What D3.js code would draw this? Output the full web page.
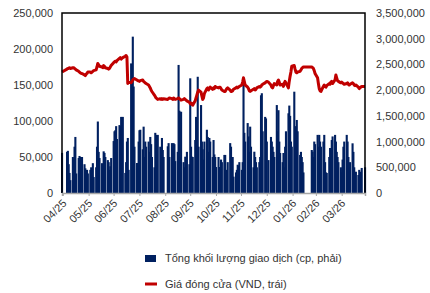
<!DOCTYPE html>
<html>
<head>
<meta charset="utf-8">
<script src="https://cdn.jsdelivr.net/npm/d3@7"></script>
<style>
  body { margin: 0; background: #fff; }
  text { font-family: "Liberation Sans", Arial, sans-serif; fill: #333; }
</style>
</head>
<body>
<div id="chart"></div>
<script>
'use strict';

// trading volume, thousand shares, one value per trading day, grouped by month
const volApr25 = [780];
const volMay25 = [800,820,560,390,250, 700,650,900,1090,380, 680,720,700,650,700, 560,480,430,450,380];
const volJun25 = [450,500,350,580,310, 500,900,1390,800,680, 580,380,810,780,700, 640,600,450,520,680, 1010];
const volJul25 = [1200,1220,1300,1050, 1320,1300,1480,1460,1480, 390,600,1000,1070,450, 2520,1500,3040,2070,900, 583,450,1000,1220];
const volAug25 = [1230, 850,1290,700,1000,900, 1000,800,1090,950,700, 500,1170,1130,800,1130, 900,600,1070,836,700];
const volSep25 = [908,970,700, 970,850,970,950,620, 800,2490,1600,700,1580, 600,500,706,600,800, 560,2230];
const volOct25 = [900,706,700, 1030,1480,1200,2260,900, 1710,1000,850,650,1000, 1230,1090,800,1070,1000, 700,1030,750,700,505];
const volNov25 = [700,505,500,650,600, 740,740,450,400,600, 970,900,600,700,318, 400,450,550,530,600];
const volDec25 = [450,600,2240,1170,1000, 1360,1100,800,1290,900, 500,803,700,600,500, 600,700,1900,1940,1200, 1480,1450,1000];
const volJan26 = [640, 1090,1000,900,800,700, 1710,1200,1610,1000,778, 600,778,500,900,1200, 1550,1700,1500,1000,900];
const volFeb26 = [1970,1300,1000,1420,1200, 740,800,700,600,400, 836,803,700,1000,950];
const volMar26 = [1130,900,1130,1000,900, 1000,1130,600,400,390, 700,875,600,1030,1100, 1130,1000,800,700,600, 500,400];
const volApr26 = [650,900,1000, 1130,1000,700,500,600, 966,800,500,400,414, 350,450,414,380,487, 500];

// closing price, thousand VND
const priceApr25 = [168];
const priceMay25 = [172,173,173,174,173, 174,174,173,172,171, 169,168,167,166,166, 164,163,165,166,168];
const priceJun25 = [168,167,168,169,170, 171,175,180,178,176, 175,174,177,176,174, 173,172,173,175,177, 181];
const priceJul25 = [182,183,182,184, 187,188,186,187,188, 190,191,189,152,154, 153,155,157,158,159, 157,156,156,155];
const priceAug25 = [156, 157,155,154,153,152, 150,148,146,143,141, 136,134,132,131,130, 131,130,131,130,131];
const priceSep25 = [130,131,132, 131,130,132,131,130, 131,132,131,130,129, 130,131,130,129,128, 126,124];
const priceOct25 = [125,123,122, 128,132,136,140,143, 140,135,130,132,138, 145,146,143,145,147, 144,146,145,148,147];
const priceNov25 = [146,147,147,145,143, 141,141,143,145,146, 143,141,141,142,144, 146,147,146,147,148];
const priceDec25 = [150,154,160,155,150, 147,145,142,141,142, 144,145,143,144,146, 148,147,148,150,151, 153,154,155];
const priceJan26 = [154, 150,147,146,149,152, 150,155,157,154,150, 151,148,152,155,153, 146,155,162,168,176];
const priceFeb26 = [177,172,168,167,168, 169,171,173,174,175, 175,174,173,170,166];
const priceMar26 = [160,152,145,142,141, 148,150,148,147,149, 152,151,154,155,152, 157,164,160,156,155, 153,154];
const priceApr26 = [153,152,151, 152,153,151,150,151, 153,152,150,149,150, 147,145,146,147,148, 148];

// market holidays (weekdays with no trading)
const holidays = ["2025-04-30","2025-05-01","2025-05-02","2025-09-01","2025-09-02","2026-01-01",
                  "2026-02-16","2026-02-17","2026-02-18","2026-02-19","2026-02-20","2026-04-27"];

const monthLabels = ["04/25","05/25","06/25","07/25","08/25","09/25","10/25","11/25","12/25","01/26","02/26","03/26"];
const leftTicks = [0, 50000, 100000, 150000, 200000, 250000];
const rightTicks = [0, 500000, 1000000, 1500000, 2000000, 2500000, 3000000, 3500000];

const volumes = [].concat(volApr25, volMay25, volJun25, volJul25, volAug25, volSep25, volOct25,
                          volNov25, volDec25, volJan26, volFeb26, volMar26, volApr26);
const prices = [].concat(priceApr25, priceMay25, priceJun25, priceJul25, priceAug25, priceSep25, priceOct25,
                         priceNov25, priceDec25, priceJan26, priceFeb26, priceMar26, priceApr26);

const startDate = new Date(2025, 3, 29);
const endDate = new Date(2026, 3, 28);
const fmtDay = d3.timeFormat("%Y-%m-%d");

let tradingDays = d3.timeDay.range(startDate, d3.timeDay.offset(endDate, 1))
    .filter(function(d) { return d.getDay() !== 0 && d.getDay() !== 6 && holidays.indexOf(fmtDay(d)) < 0; });

let n = Math.min(tradingDays.length, volumes.length, prices.length);
let data = d3.range(n).map(function(i) {
    return { date: tradingDays[i], vol: volumes[i] * 1000, price: prices[i] * 1000 };
});

let width = 430, height = 293;
let margin = {top: 13, right: 65, bottom: 100, left: 62};
let x0 = margin.left, x1 = width - margin.right, y0 = height - margin.bottom, y1 = margin.top;

let svg = d3.select("#chart").append("svg")
    .attr("width", width)
    .attr("height", height);

let x = d3.scaleTime().domain([startDate, endDate]).range([x0, x1]);
let yLeft = d3.scaleLinear().domain([0, 250000]).range([y0, y1]);
let yRight = d3.scaleLinear().domain([0, 3500000]).range([y0, y1]);

// bars
svg.append("g").selectAll("rect")
    .data(data)
    .enter().append("rect")
        .attr("x", function(d) { return x(d.date) - 1; })
        .attr("width", 2.1)
        .attr("y", function(d) { return yRight(d.vol); })
        .attr("height", function(d) { return y0 - yRight(d.vol); })
        .attr("fill", "#002060");

// price line
let line = d3.line()
    .x(function(d) { return x(d.date); })
    .y(function(d) { return yLeft(d.price); });

svg.append("path")
    .datum(data)
    .attr("d", line)
    .attr("fill", "none")
    .attr("stroke", "#C00000")
    .attr("stroke-width", 3)
    .attr("stroke-linejoin", "round");

// frame: left, top, right in black
svg.append("path")
    .attr("d", "M" + x0 + "," + y0 + "V" + y1 + "H" + x1 + "V" + y0)
    .attr("fill", "none")
    .attr("stroke", "#000")
    .attr("stroke-width", 1.5);

// left axis
let gl = svg.append("g")
    .attr("transform", "translate(" + x0 + ",0)")
    .call(d3.axisLeft(yLeft).tickValues(leftTicks).tickSize(0).tickPadding(9).tickFormat(d3.format(",")));
gl.select(".domain").remove();

// right axis
let gr = svg.append("g")
    .attr("transform", "translate(" + x1 + ",0)")
    .call(d3.axisRight(yRight).tickValues(rightTicks).tickSize(0).tickPadding(11).tickFormat(d3.format(",")));
gr.select(".domain").remove();

svg.selectAll(".tick text").attr("font-size", 11).attr("font-family", null).attr("fill", "#333");

// bottom axis, month ticks labelled at month end
let tickDates = monthLabels.map(function(lbl, i) {
    return d3.timeDay.offset(d3.timeMonth.offset(new Date(2025, 4, 1), i), -1);
});

let gb = svg.append("g")
    .attr("transform", "translate(0," + y0 + ")")
    .call(d3.axisBottom(x).tickValues(tickDates).tickSize(3)
        .tickFormat(function(d, i) { return monthLabels[i]; }));
gb.select(".domain").attr("stroke", "#a6a6a6").attr("stroke-width", 1.5);
gb.selectAll(".tick line").attr("stroke", "#a6a6a6");
gb.selectAll(".tick text")
    .attr("font-size", 11)
    .attr("font-family", null)
    .attr("fill", "#333")
    .attr("text-anchor", "end")
    .attr("x", 0).attr("y", 0).attr("dy", null)
    .attr("transform", "translate(4,11) rotate(-45)");

// legend
let legend = svg.append("g");
legend.append("rect")
    .attr("x", 145).attr("y", 255).attr("width", 11).attr("height", 7)
    .attr("fill", "#002060");
legend.append("text")
    .attr("x", 165).attr("y", 262)
    .attr("font-size", 11)
    .text("Tổng khối lượng giao dịch (cp, phải)");
legend.append("line")
    .attr("x1", 145).attr("x2", 157).attr("y1", 284).attr("y2", 284)
    .attr("stroke", "#C00000").attr("stroke-width", 3);
legend.append("text")
    .attr("x", 165).attr("y", 288)
    .attr("font-size", 11)
    .text("Giá đóng cửa (VND, trái)");
</script>
</body>
</html>
